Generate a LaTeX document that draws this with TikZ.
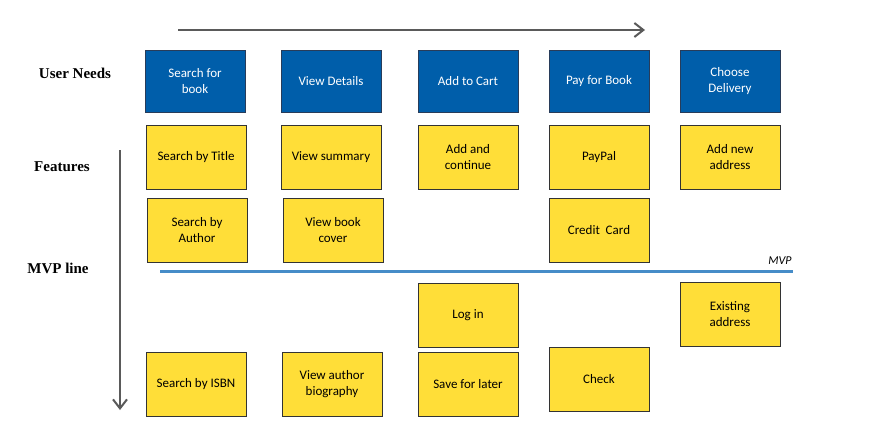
\documentclass[tikz,border=0pt]{standalone}
\usepackage{fontspec}
\setmainfont{Carlito}
\newfontfamily\labfont{Liberation Serif}
\usetikzlibrary{arrows.meta}
\begin{document}
\begin{tikzpicture}[x=1pt,y=-1pt,
  need/.style={fill=blue!60!black!90!cyan, fill={rgb,255:red,0;green,94;blue,170}, draw={rgb,255:red,40;green,60;blue,90}, text=white, minimum width=100pt, minimum height=62pt, align=center, font=\fontsize{13}{16}\selectfont, inner sep=2pt},
  feat/.style={fill={rgb,255:red,255;green,222;blue,56}, draw=black!80, minimum width=100pt, minimum height=64pt, align=center, font=\fontsize{13}{16}\selectfont, inner sep=2pt},
  lab/.style={font=\labfont\bfseries\fontsize{15}{18}\selectfont},
  flow/.style={draw={rgb,255:red,90;green,90;blue,90}, line width=2pt, -{Straight Barb[length=9pt,width=14pt]}}]
\useasboundingbox (0,0) rectangle (871,434);
\node[need] (n1) at (195,81) {Search for\\book};
\node[need] (n2) at (331,81) {View Details};
\node[need] (n3) at (468,81) {Add to Cart};
\node[need] (n4) at (599,81) {Pay for Book};
\node[need] (n5) at (730,81) {Choose\\Delivery};
\node[feat] (a1) at (196,157) {Search by Title};
\node[feat] (a2) at (331,157) {View summary};
\node[feat] (a3) at (468,157) {Add and\\continue};
\node[feat] (a4) at (599,157) {PayPal};
\node[feat] (a5) at (730,157) {Add new\\address};
\node[feat] (b1) at (197,230) {Search by\\Author};
\node[feat] (b2) at (333,230) {View book\\cover};
\node[feat] (b4) at (599,230) {Credit~~Card};
\node[feat] (c3) at (468,315) {Log in};
\node[feat] (c5) at (730,314) {Existing\\address};
\node[feat] (d1) at (196,384) {Search by ISBN};
\node[feat] (d2) at (332,384) {View author\\biography};
\node[feat] (d3) at (468,384) {Save for later};
\node[feat] (d4) at (599,379) {Check};
\node[lab] (l1) at (75,73) {User Needs};
\node[lab] (l2) at (62,167) {Features};
\node[lab] (l3) at (58,268) {MVP line};
\coordinate (m1) at (160,271); \coordinate (m2) at (793,271);
\draw[line width=3pt, draw={rgb,255:red,70;green,140;blue,200}] (m1) -- (m2);
\node[font=\itshape\fontsize{12}{14}\selectfont, anchor=south] (mvp) at (780,268) {MVP};
\coordinate (t1) at (178,30); \coordinate (t2) at (645,30);
\draw[flow] (t1) -- (t2);
\coordinate (s1) at (120,150); \coordinate (s2) at (120,410);
\draw[flow] (s1) -- (s2);
\end{tikzpicture}
\end{document}
